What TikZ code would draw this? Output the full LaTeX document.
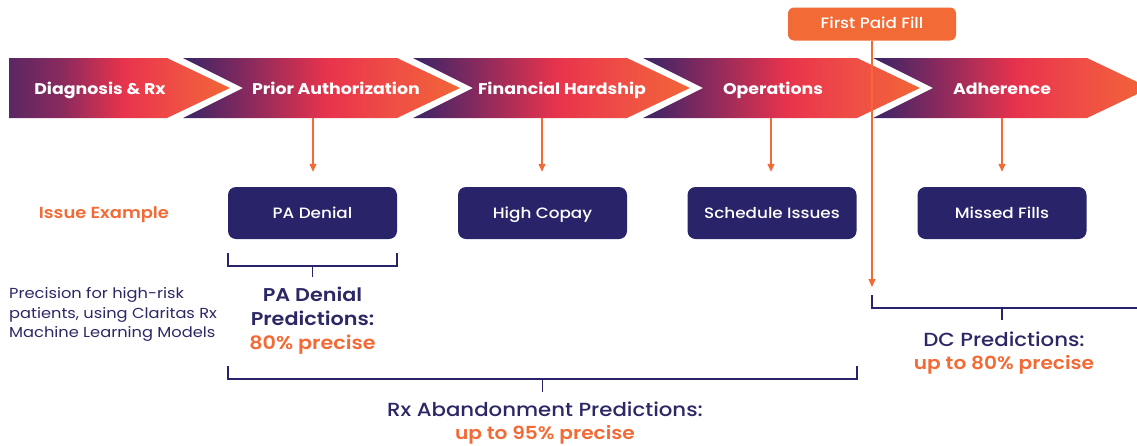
\documentclass[tikz,border=0pt]{standalone}
\usepackage{fontspec}
\setmainfont{Poppins}[FakeStretch=1.12]
\newfontfamily\pmed{Poppins Medium}[FakeStretch=1.12]
\newfontfamily\psemi{Poppins SemiBold}[FakeStretch=1.12]
\newfontfamily\pbold{Poppins Bold}[FakeStretch=1.12]
\usetikzlibrary{arrows.meta}
\definecolor{navy}{HTML}{29246A}
\definecolor{navytext}{HTML}{2C2866}
\definecolor{orng}{HTML}{F26A36}
\definecolor{gpurple}{HTML}{3A2566}
\definecolor{gpurple1}{HTML}{5A2763}
\definecolor{gmag}{HTML}{8A2A5E}
\definecolor{gred}{HTML}{E8334C}
\definecolor{gred2}{HTML}{EF4E45}
\definecolor{gorange}{HTML}{F26636}
\pgfdeclarehorizontalshading{chev}{100bp}{color(0bp)=(gpurple); color(25bp)=(gpurple); color(37bp)=(gmag); color(51bp)=(gred); color(63bp)=(gred2); color(75bp)=(gorange); color(100bp)=(gorange)}
\pgfdeclarehorizontalshading{chevfirst}{100bp}{color(0bp)=(gpurple1); color(25bp)=(gpurple1); color(37bp)=(gmag); color(51bp)=(gred); color(63bp)=(gred2); color(75bp)=(gorange); color(100bp)=(gorange)}
\tikzset{
  chevshape/.style={shading=chev, draw=none},
  chevtext/.style={text=white, font=\pbold\fontsize{15.5}{18}\selectfont, text height=11pt, text depth=3pt},
  issuebox/.style={fill=navy, rounded corners=8pt, minimum width=169pt, minimum height=52pt, text=white, font=\pmed\fontsize{15}{17}\selectfont, inner sep=0pt, text height=11pt, text depth=3pt},
  oarrow/.style={draw=orng, line width=1.2pt, -{Triangle[length=8pt,width=7pt]}},
  bracketline/.style={draw=navy, line width=1.3pt},
  predtext/.style={text=navytext, align=center},
}
\begin{document}
\begin{tikzpicture}[x=1pt,y=-1pt]
\useasboundingbox (0,0) rectangle (1137,445);
\clip (0,0) rectangle (1137,445);
% chevrons
\path[shading=chevfirst] (9,58) -- (167,58) -- (230,88) -- (167,118) -- (9,118) -- cycle;
\foreach \L in {183,413,643,873}{
  \path[chevshape] (\L,58) -- (\L+214,58) -- (\L+277,88) -- (\L+214,118) -- (\L,118) -- (\L+60,88) -- cycle;
}
\node[chevtext] (c1) at (100,90) {Diagnosis \& Rx};
\node[chevtext] (c2) at (336,90) {Prior Authorization};
\node[chevtext] (c3) at (562,90) {Financial Hardship};
\node[chevtext] (c4) at (773,90) {Operations};
\node[chevtext] (c5) at (1002,90) {Adherence};
% band bottom start points
\coordinate (s2) at (313,118);
\coordinate (s3) at (542,118);
\coordinate (s4) at (771,118);
\coordinate (s5) at (1002,118);
% issue boxes
\node[issuebox] (b2) at (312.5,213) {\raisebox{-1.5pt}{PA Denial}};
\node[issuebox] (b3) at (542.5,213) {\raisebox{-1.5pt}{High Copay}};
\node[issuebox] (b4) at (772,213) {\raisebox{-1.5pt}{Schedule Issues}};
\node[issuebox] (b5) at (1002,213) {\raisebox{-1.5pt}{Missed Fills}};
\draw[oarrow, shorten >=15pt] (s2) -- (s2 |- b2.north);
\draw[oarrow, shorten >=15pt] (s3) -- (s3 |- b3.north);
\draw[oarrow, shorten >=15pt] (s4) -- (s4 |- b4.north);
\draw[oarrow, shorten >=15pt] (s5) -- (s5 |- b5.north);
% labels left
\node[text=orng, font=\psemi\fontsize{16}{18}\selectfont, text height=11pt, text depth=3pt] (issue) at (104,214.5) {Issue Example};
\node[text=navytext, anchor=west, align=left, font=\fontsize{14.5}{19.5}\selectfont, inner sep=0pt] (prec) at (9,314.5) {Precision for high-risk\\patients, using Claritas Rx\\Machine Learning Models};
% first paid fill
\node[fill=orng, rounded corners=6pt, minimum width=168pt, minimum height=33pt, text=white, font=\pmed\fontsize{15}{17}\selectfont, inner sep=0pt, text height=10.5pt, text depth=3pt] (fpf) at (872,24) {\raisebox{-1pt}{First Paid Fill}};
\coordinate (fend) at (872,287);
\draw[oarrow] (fpf.south) -- (fend);
% PA bracket
\draw[bracketline] (228,253) -- (228,266) -- (397,266) -- (397,253);
\coordinate (pat) at (312.5,266);
\draw[bracketline] (pat) -- ++(0,11) coordinate (pab);
\node[predtext, font=\psemi\fontsize{18.5}{24}\selectfont] (pap) at (312.5,321) {PA Denial\\Predictions:\\\textcolor{orng}{80\% precise}};
% big bracket
\draw[bracketline] (228,366) -- (228,379) -- (857,379) -- (857,366);
\coordinate (rxt) at (542.5,379);
\draw[bracketline] (rxt) -- ++(0,13) coordinate (rxb);
\node[predtext, font=\pmed\fontsize{19}{23}\selectfont] (rxp) at (545,423.5) {Rx Abandonment Predictions:\\\textcolor{orng}{\psemi\fontsize{18}{23}\selectfont up to 95\% precise}};
% DC bracket
\draw[bracketline] (872,295) -- (872,308) -- (1140,308);
\coordinate (dct) at (1002,308);
\draw[bracketline] (dct) -- ++(0,12) coordinate (dcb);
\node[predtext, font=\pmed\fontsize{19}{23}\selectfont] (dcp) at (1004,353.5) {DC Predictions:\\\textcolor{orng}{\psemi\fontsize{18}{23}\selectfont up to 80\% precise}};
\end{tikzpicture}
\end{document}
